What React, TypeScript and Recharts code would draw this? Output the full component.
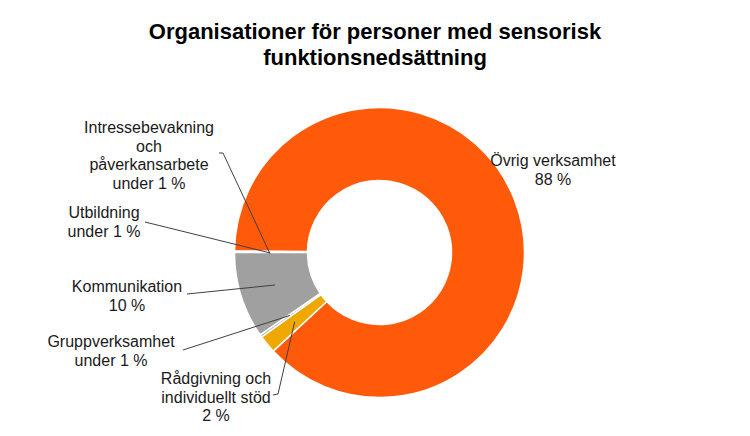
import React from 'react';
import { PieChart, Pie, Cell } from 'recharts';

const categories = [
  'Utbildning',
  'Intressebevakning och påverkansarbete',
  'Övrig verksamhet',
  'Rådgivning och individuellt stöd',
  'Gruppverksamhet',
  'Kommunikation',
];
const values = [0.1, 0.1, 87.9, 2.0, 0.3, 9.6];
const valueLabels = ['under 1 %', 'under 1 %', '88 %', '2 %', 'under 1 %', '10 %'];
const colors = ['#FFFFFF', '#FFFFFF', '#FF5A0A', '#EEA800', '#BDBDBD', '#A0A0A0'];

// label layout: text lines, text centre x, first baseline y, leader line end and tick end
const labelLines = [
  ['Utbildning', 'under 1 %'],
  ['Intressebevakning', 'och', 'påverkansarbete', 'under 1 %'],
  ['Övrig verksamhet', '88 %'],
  ['Rådgivning och', 'individuellt stöd', '2 %'],
  ['Gruppverksamhet', 'under 1 %'],
  ['Kommunikation', '10 %'],
];
const labelLayout = [
  { x: 104, y: 218, lx: 145, ly: 222, tx: 145, ty: 222, line: true },
  { x: 149, y: 133, lx: 223, ly: 153, tx: 219, ty: 153, line: true },
  { x: 553, y: 166, lx: 0, ly: 0, tx: 0, ty: 0, line: false },
  { x: 216, y: 384, lx: 278, ly: 394, tx: 273, ty: 395, line: true },
  { x: 111, y: 347, lx: 183, ly: 350, tx: 183, ty: 350, line: true },
  { x: 127, y: 292, lx: 187, ly: 294, tx: 187, ty: 294, line: true },
];
// small angular nudges (degrees) so the leader lines of the tiny slices start where the reference shows
const lineAngleNudge = [0.4, 1.2, 0, 0, 0, 0];

const data = categories.map((name, i) => ({ name, value: values[i], text: valueLabels[i] }));

const RAD = Math.PI / 180;

const renderLabel = (props: any) => {
  const { cx, cy, midAngle, innerRadius, outerRadius, index } = props;
  const lay = labelLayout[index];
  const lines = labelLines[index];
  const r = (innerRadius + outerRadius) / 2 + 1;
  const a = midAngle + lineAngleNudge[index];
  const sx = cx + r * Math.cos(-a * RAD);
  const sy = cy + r * Math.sin(-a * RAD);
  return (
    <g key={`lbl-${index}`}>
      {lay.line && (
        <polyline
          points={`${sx},${sy} ${lay.lx},${lay.ly} ${lay.tx},${lay.ty}`}
          fill="none"
          stroke="#404040"
          strokeWidth={1}
        />
      )}
      <text
        x={lay.x}
        y={lay.y}
        textAnchor="middle"
        fill="#1a1a1a"
        fontSize={16}
        fontFamily="'Liberation Sans', Arial, sans-serif"
      >
        {lines.map((t, j) => (
          <tspan key={j} x={lay.x} dy={j === 0 ? 0 : 18.7}>
            {t}
          </tspan>
        ))}
      </text>
    </g>
  );
};

export default function App() {
  return (
    <div style={{ position: 'absolute', left: 0, top: 0, width: 750, height: 436, background: '#fff' }}>
      <div
        style={{
          position: 'absolute',
          left: 0,
          top: 19,
          width: 750,
          textAlign: 'center',
          fontFamily: "'Liberation Sans', Arial, sans-serif",
          fontWeight: 'bold',
          fontSize: 22,
          lineHeight: '26px',
          color: '#000',
        }}
      >
        Organisationer för personer med sensorisk
        <br />
        funktionsnedsättning
      </div>
      <div style={{ position: 'absolute', left: 0, top: 0 }}>
        <PieChart width={750} height={436}>
          <Pie
            data={data}
            dataKey="value"
            nameKey="name"
            cx={374.5}
            cy={247.5}
            innerRadius={72}
            outerRadius={145}
            startAngle={180}
            endAngle={-180}
            stroke="#ffffff"
            strokeWidth={1.5}
            label={renderLabel}
            labelLine={false}
            isAnimationActive={false}
          >
            {data.map((d, i) => (
              <Cell key={d.name} fill={colors[i]} />
            ))}
          </Pie>
        </PieChart>
      </div>
    </div>
  );
}
